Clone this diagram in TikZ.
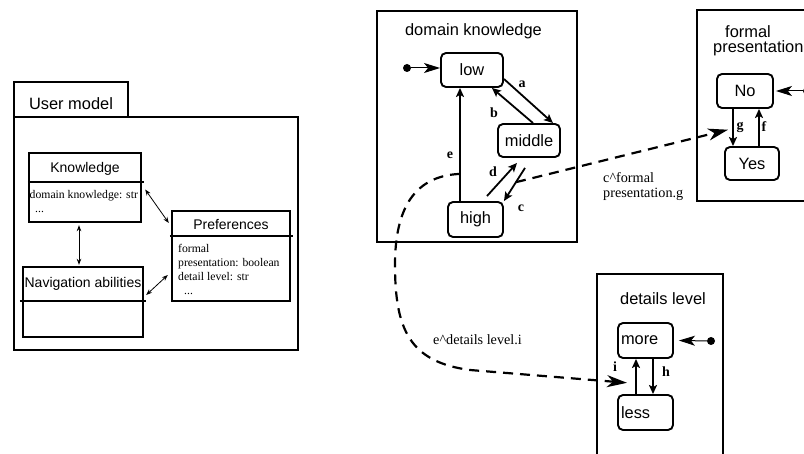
\documentclass[tikz,border=0pt]{standalone}
\usepackage{fontspec}
\setmainfont{Liberation Serif}
\setsansfont{Liberation Sans}
\usetikzlibrary{arrows.meta,calc}

\newcommand\fState{\sffamily\fontsize{16.4}{15}\selectfont}
\newcommand\fClass{\sffamily\fontsize{14}{17}\selectfont}
\newcommand\fAttr{\rmfamily\fontsize{11.7}{14}\selectfont}
\newcommand\fSync{\rmfamily\fontsize{14.2}{15}\selectfont}
\newcommand\fTrans{\rmfamily\bfseries\fontsize{14}{17}\selectfont}

\tikzset{
  umlbox/.style={draw, line width=2.4pt, inner sep=0pt},
  region/.style={draw, line width=2.2pt, inner sep=0pt},
  divider/.style={line width=2.4pt},
  statebox/.style={draw, line width=1.9pt, rounded corners=5pt, inner sep=0pt, font=\fState},
  ttl/.style={inner sep=0pt, font=\fState},
  cls/.style={inner sep=0pt, font=\fClass},
  attr/.style={inner sep=0pt, anchor=west, font=\fAttr},
  attrblock/.style={inner sep=0pt, anchor=north west, align=left, font=\fAttr},
  synclabel/.style={inner sep=0pt, anchor=west, font=\fSync},
  trans/.style={line width=1.8pt, -{Stealth[length=9pt,width=8pt,inset=2pt]}},
  tlabel/.style={inner sep=0pt, font=\fTrans},
  initdot/.style={circle, fill, inner sep=0pt, minimum size=8pt},
  initarrow/.style={line width=1pt, -{Stealth[length=16pt,width=10pt,inset=4pt]}},
  sync/.style={line width=2.2pt, dash pattern=on 10pt off 7pt, -{Stealth[length=20pt,width=12pt,inset=6pt]}},
  assoc/.style={line width=0.8pt, {Stealth[length=6pt,width=4.5pt]}-{Stealth[length=6pt,width=4.5pt]}},
}

\begin{document}
\begin{tikzpicture}[x=1pt,y=-1pt]
\useasboundingbox (0,0) rectangle (804,454);
\fill[white] (0,0) rectangle (804,454);
\clip (0,0) rectangle (804,454);

% ---------- User model package ----------
\node[umlbox, minimum width=114pt, minimum height=35pt] (umtab) at (71,99.5) {};
\node[ttl] (umT) at (71,104) {User model};
\node[umlbox, minimum width=284pt, minimum height=233pt] (umain) at (156,233.5) {};

% Knowledge class
\node[umlbox, minimum width=112pt, minimum height=69pt] (know) at (85,187.5) {};
\draw[divider] ([yshift=-30pt]know.north west) -- ([xshift=2pt,yshift=-30pt]know.north east);
\node[cls] (knowT) at (85,169) {Knowledge};
\node[attrblock] (knowA) at (29.5,190) {domain knowledge: str\\\hspace{5.5pt}...};

% Preferences class
\node[umlbox, minimum width=118pt, minimum height=90pt] (pref) at (231,256) {};
\draw[divider] ([xshift=-1pt,yshift=-26pt]pref.north west) -- ([xshift=2pt,yshift=-26pt]pref.north east);
\node[cls] (prefT) at (231,225) {Preferences};
\node[attrblock] (prefA) at (178,243.7)
  {formal\\presentation: boolean\\detail level: str\\\hspace{6pt}...};

% Navigation abilities class
\node[umlbox, minimum width=120pt, minimum height=70pt] (nav) at (83,302) {};
\draw[divider] ([xshift=-2pt,yshift=-35pt]nav.north west) -- ([xshift=2pt,yshift=-35pt]nav.north east);
\node[cls] (navT) at (83,284) {Navigation abilities};

% associations
\draw[assoc] ([xshift=-6pt,yshift=-2pt]know.south) -- ([xshift=-4pt,yshift=1pt]nav.north);
\draw[assoc] ([xshift=3pt,yshift=-2pt]know.east) -- ([xshift=-2pt,yshift=33pt]pref.west);
\draw[assoc] ([xshift=2pt,yshift=7pt]nav.east) -- ([xshift=-3pt,yshift=-19pt]pref.west);

% ---------- domain knowledge region ----------
\node[region, minimum width=200pt, minimum height=231pt] (dom) at (477,126.5) {};
\node[ttl] (domT) at (473.5,31) {domain knowledge};
\node[statebox, minimum width=62pt, minimum height=34pt] (low) at (472,70) {\raisebox{-5pt}{low}};
\node[statebox, minimum width=62pt, minimum height=33pt] (mid) at (529,140.5) {\raisebox{-5pt}{middle}};
\node[statebox, minimum width=55pt, minimum height=35pt] (high) at (475.5,219.5) {\raisebox{-2.5pt}{high}};
\node[initdot] (d0) at (407,68) {};
\draw[initarrow] (d0) -- (d0 -| low.west);

% a, b
\draw[trans] ([yshift=-9pt]low.east) -- ([xshift=-8pt]mid.north east);
\draw[trans] ([xshift=4pt]mid.north) -- ([xshift=-12pt]low.south east);
% e
\coordinate (eA) at ([xshift=-15.5pt]high.north);
\coordinate (eB) at (eA |- low.south);
\draw[trans] (eA) -- (eB);
\coordinate (eS) at ($(eA)!0.24!(eB)$);
% d
\draw[trans] ([xshift=11.5pt,yshift=5pt]high.north) -- ([xshift=-12pt,yshift=-5pt]mid.south);
% c
\coordinate (cA) at ([xshift=-4pt,yshift=-10pt]mid.south);
\coordinate (cB) at (high.north east);
\draw[trans] (cA) -- (cB);
\coordinate (cS) at ($(cA)!0.43!(cB)$);

\node[tlabel] (la) at (522,84) {a};
\node[tlabel] (lb) at (494,113) {b};
\node[tlabel] (le) at (450,155) {e};
\node[tlabel] (ld) at (493,172) {d};
\node[tlabel] (lc) at (521,208) {c};

% ---------- formal presentation region ----------
\node[region, minimum width=123pt, minimum height=191pt] (fp) at (758.5,105.5) {};
\node[ttl, anchor=north west, align=left] (fpT) at (713,25) {\hspace{12pt}formal\\presentation};
\node[statebox, minimum width=56pt, minimum height=34pt] (No) at (745,91) {\raisebox{-3pt}{No}};
\node[statebox, minimum width=54pt, minimum height=33pt] (Yes) at (752,163.5) {Yes};
\node[initdot] (d1) at (807,91) {};
\draw[initarrow] (d1) -- ([xshift=2pt]No.east);
\coordinate (gA) at ([xshift=-12pt]No.south);
\coordinate (gB) at (gA |- Yes.north);
\draw[trans] (gA) -- (gB);
\coordinate (gM) at ($(gA)!0.56!(gB)$);
\coordinate (fA) at ([xshift=7pt]Yes.north);
\draw[trans] (fA) -- (fA |- No.south);
\node[tlabel] (lg) at (740,127) {g};
\node[tlabel] (lf) at (764,127) {f};

% ---------- details level region ----------
\node[region, minimum width=126pt, minimum height=212pt] (dl) at (660,380) {};
\node[ttl] (dlT) at (663,299) {details level};
\node[statebox, minimum width=55pt, minimum height=35pt, text width=49pt, align=left] (more) at (645.5,340.5) {more};
\node[statebox, minimum width=55pt, minimum height=35pt, text width=49pt, align=left] (less) at (645.5,412.5) {less};
\node[initdot] (d2) at (711,341) {};
\draw[initarrow] (d2) -- ([xshift=5pt]more.east);
\coordinate (iA) at ([xshift=-9.5pt]less.north);
\coordinate (iB) at (iA |- more.south);
\draw[trans] (iA) -- (iB);
\coordinate (iM) at ($(iA)!0.32!(iB)$);
\coordinate (hA) at ([xshift=7.5pt]more.south);
\draw[trans] (hA) -- (hA |- less.north);
\node[tlabel] (li) at (615,367) {i};
\node[tlabel] (lh) at (666,372) {h};

% ---------- synchronisation arrows ----------
\draw[sync] (cS) -- ([xshift=-5pt]gM);
\draw[sync] (eS) .. controls (410,176) and (395,215) .. (395,265)
  .. controls (395,330) and (410,362) .. (470,370) -- ([xshift=-9pt]iM);

\node[inner sep=0pt, anchor=north west, align=left, font=\fSync] (sc) at (603,172)
  {c\textasciicircum formal\\presentation.g};
\node[synclabel] (se) at (433,340) {e\textasciicircum details level.i};

\end{tikzpicture}
\end{document}
